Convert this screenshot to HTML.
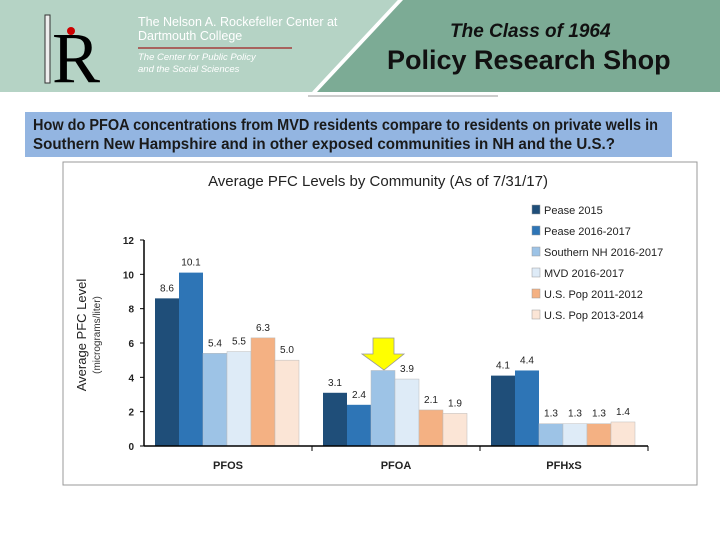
<!DOCTYPE html>
<html><head><meta charset="utf-8"><style>
body{margin:0;width:720px;height:540px;background:#fff;overflow:hidden;position:relative;font-family:"Liberation Sans",sans-serif}
.abs{position:absolute}
</style></head><body>
<svg class="abs" style="left:0;top:0" width="720" height="100">
<polygon points="0,0 398,0 312,92 0,92" fill="#b5d3c5"/>
<polygon points="403,0 720,0 720,92 317,92" fill="#7cab95"/>
<line x1="400" y1="0" x2="314" y2="92" stroke="#fff" stroke-width="3"/>
<line x1="308" y1="96" x2="498" y2="96" stroke="#999" stroke-width="1"/>
<line x1="138" y1="48" x2="292" y2="48" stroke="#a02020" stroke-width="1.2"/>
<rect x="45" y="15" width="5" height="68" fill="#eee" stroke="#333" stroke-width="1"/>
<text x="52" y="82" font-family="Liberation Serif,serif" font-size="72" fill="#000">R</text>
<circle cx="71" cy="31" r="4" fill="#c00"/>
</svg>
<div class="abs" style="left:138px;top:15px;color:#fff;font-size:12.5px;line-height:14px">The Nelson A. Rockefeller Center at<br>Dartmouth College</div>
<div class="abs" style="left:138px;top:52px;color:#fff;font-size:9.5px;font-style:italic;line-height:12px">The Center for Public Policy<br>and the Social Sciences</div>
<div class="abs" style="left:450px;top:21px;font-size:19px;font-style:italic;font-weight:bold;color:#111">The Class of 1964</div>
<div class="abs" style="left:387px;top:45px;font-size:27px;font-weight:bold;color:#111">Policy Research Shop</div>
<div class="abs" style="left:25px;top:112px;width:647px;height:45px;background:#93b5e1">
<svg width="647" height="45" style="display:block"><text font-weight="bold" font-size="15.5" fill="#1a1a1a"><tspan x="8" y="18" textLength="625" lengthAdjust="spacingAndGlyphs">How do PFOA concentrations from MVD residents compare to residents on private wells in</tspan><tspan x="8" y="37" textLength="582" lengthAdjust="spacingAndGlyphs">Southern New Hampshire and in other exposed communities in NH and the U.S.?</tspan></text></svg>
</div>
<svg id="chart" class="abs" style="left:0;top:0" width="720" height="540"></svg>
<script>
const categories=["PFOS","PFOA","PFHxS"];
const seriesNames=["Pease 2015","Pease 2016-2017","Southern NH 2016-2017","MVD 2016-2017","U.S. Pop 2011-2012","U.S. Pop 2013-2014"];
const pease2015=[8.6,3.1,4.1];
const pease2016=[10.1,2.4,4.4];
const southernNH=[5.4,4.4,1.3];
const mvd=[5.5,3.9,1.3];
const usPop2011=[6.3,2.1,1.3];
const usPop2013=[5.0,1.9,1.4];
const valueLabels=[["8.6","3.1","4.1"],["10.1","2.4","4.4"],["5.4","","1.3"],["5.5","3.9","1.3"],["6.3","2.1","1.3"],["5.0","1.9","1.4"]];
const yTicks=[0,2,4,6,8,10,12];
const series=[pease2015,pease2016,southernNH,mvd,usPop2011,usPop2013];
const colors=["#1f4e79","#2e75b6","#9dc3e6","#deebf7","#f4b183","#fbe5d6"];
const NS="http://www.w3.org/2000/svg";
const svg=document.getElementById('chart');
const x0=144,x1=648,y0=446,yTop=240,ymax=12;
const y=v=>y0-(v/ymax)*(y0-yTop);
const gw=(x1-x0)/categories.length,bw=24,pad=11;
const bx=(g,s)=>x0+g*gw+pad+s*bw;
function mk(t,a){const e=document.createElementNS(NS,t);for(const k in a)e.setAttribute(k,a[k]);svg.appendChild(e);return e;}
let e=mk('rect',{x:63,y:162,width:634,height:323,fill:'none',stroke:'#999'});


e=mk('text',{x:378,y:186,'text-anchor':'middle','font-size':15,fill:'#222'});e.textContent="Average PFC Levels by Community (As of 7/31/17)";


series.forEach((vals,s)=>{vals.forEach((v,g)=>{
 const r=mk('rect',{x:bx(g,s),y:y(v),width:bw,height:y0-y(v),fill:colors[s],stroke:s>=2?'#bbb':'none','stroke-width':0.5});
 
 
 const lbl=valueLabels[s][g];
 if(lbl){const t=mk('text',{x:bx(g,s)+bw/2,y:y(v)-7,'text-anchor':'middle','font-size':10,fill:'#222'});t.textContent=lbl;
 
 }
});});
mk('line',{x1:x0,y1:yTop,x2:x0,y2:y0,stroke:'#000','stroke-width':1.5});
mk('line',{x1:x0,y1:y0,x2:x1,y2:y0,stroke:'#000','stroke-width':1.5});
yTicks.forEach(t=>{mk('line',{x1:x0-4,y1:y(t),x2:x0,y2:y(t),stroke:'#000'});
 const tx=mk('text',{x:x0-10,y:y(t)+4,'text-anchor':'end','font-size':10,'font-weight':'bold',fill:'#222'});tx.textContent=t;
 
 });
categories.forEach((c,g)=>{mk('line',{x1:x0+(g+1)*gw,y1:y0,x2:x0+(g+1)*gw,y2:y0+5,stroke:'#000'});
 const t=mk('text',{x:x0+g*gw+gw/2,y:y0+23,'text-anchor':'middle','font-size':11,'font-weight':'bold',fill:'#222'});t.textContent=c;
 
 });
e=mk('text',{transform:'translate(86,335) rotate(-90)','text-anchor':'middle','font-size':13,fill:'#222'});e.textContent="Average PFC Level";


e=mk('text',{transform:'translate(100,335) rotate(-90)','text-anchor':'middle','font-size':10,fill:'#333'});e.textContent="(micrograms/liter)";


seriesNames.forEach((n,s)=>{const ly=205+s*21;
 mk('rect',{x:532,y:ly,width:8,height:9,fill:colors[s],stroke:'#999','stroke-width':0.5});
 const t=mk('text',{x:544,y:ly+9,'font-size':11,fill:'#222'});t.textContent=n;
 
 });
e=mk('polygon',{points:'373,338 394,338 394,354 404,354 384,370 362,354 373,354',fill:'#ffff00',stroke:'#999','stroke-width':0.8});


</script>
</body></html>
